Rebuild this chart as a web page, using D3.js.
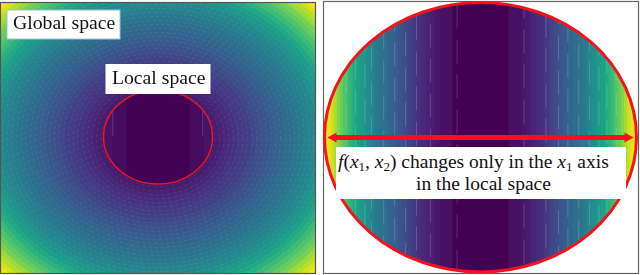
<!DOCTYPE html>
<html>
<head>
<meta charset="utf-8">
<script src="https://cdn.jsdelivr.net/npm/d3@7"></script>
<style>
  html, body { margin: 0; padding: 0; background: #fff; }
  svg { display: block; filter: blur(0.4px); }
  text { font-family: "Liberation Serif", serif; fill: #111; }
</style>
</head>
<body>
<svg id="chart" width="640" height="275"></svg>
<script>
// global space: contour radius (1 = panel half size) and its value, read along the diagonal
var contourRadius = [1.45, 1.41, 1.38, 1.35, 1.32, 1.29, 1.26, 1.23, 1.2, 1.17, 1.14, 1.11, 1.08, 1.05, 1.02,
  0.99, 0.96, 0.93, 0.9, 0.87, 0.84, 0.81, 0.78, 0.75, 0.72, 0.69, 0.66, 0.63, 0.6, 0.57, 0.54, 0.51, 0.48, 0.45, 0.42, 0.39, 0.36];
var contourValue = [1.0, 0.98, 0.94, 0.89, 0.85, 0.8, 0.76, 0.72, 0.68, 0.64, 0.6, 0.56, 0.53, 0.5, 0.47,
  0.45, 0.43, 0.41, 0.39, 0.37, 0.35, 0.33, 0.31, 0.29, 0.27, 0.25, 0.235, 0.22, 0.195, 0.18, 0.165, 0.145, 0.13, 0.115, 0.095, 0.08, 0.065];

// local space: value only depends on x1, edges are |x1| of each vertical band
var bandEdge = [1.0, 0.98, 0.96, 0.94, 0.92, 0.9, 0.88, 0.86, 0.84, 0.82, 0.8, 0.77, 0.74, 0.71, 0.68,
  0.65, 0.62, 0.59, 0.56, 0.53, 0.5, 0.47, 0.44, 0.41, 0.38, 0.35, 0.32, 0.29, 0.26, 0.18];
var bandValue = [0.98, 0.96, 0.92, 0.87, 0.82, 0.77, 0.73, 0.69, 0.65, 0.61, 0.57, 0.53, 0.49, 0.45, 0.41,
  0.38, 0.35, 0.32, 0.29, 0.26, 0.23, 0.2, 0.17, 0.14, 0.12, 0.1, 0.08, 0.06, 0.04, 0.0];
var streakX1 = [-0.86, -0.8, -0.74, -0.7, -0.62, -0.55, -0.48, -0.41, -0.32, -0.15, 0.28, 0.42, 0.5, 0.56, 0.63, 0.7, 0.76, 0.81, 0.87];
var streakShift = [3, 17, 9, 26, 12, 30, 5, 21, 14, 33, 8, 24, 2, 19, 28, 11, 6, 23, 15];

// small copy of the bands inside the red circle of the global view
var insetEdge = [1.0, 0.84, 0.58];
var insetValue = [0.05, 0.03, 0.0];
var insetStreak = [-0.83, 0.82];
var insetShift = [0, 0];

var labels = {
  global: 'Global space',
  local: 'Local space',
  line2: 'in the local space'
};

var svg = d3.select('#chart');
var color = d3.scaleSequential(d3.interpolateViridis).domain([0, 1]);
var defs = svg.append('defs');

var leftX = d3.scaleLinear().domain([-1, 1]).range([1, 315]);
var leftY = d3.scaleLinear().domain([-1, 1]).range([3, 273]);
var rightX = d3.scaleLinear().domain([-1, 1]).range([324.5, 636.5]);
var rightY = d3.scaleLinear().domain([-1, 1]).range([2.5, 272]);
var insetX = d3.scaleLinear().domain([-1, 1]).range([103.5, 212.5]);
var insetY = d3.scaleLinear().domain([-1, 1]).range([90, 184]);

defs.append('clipPath').attr('id', 'left-clip').append('rect')
  .attr('x', 1).attr('y', 3).attr('width', 314).attr('height', 270);
defs.append('clipPath').attr('id', 'right-clip').append('ellipse')
  .attr('cx', rightX(0)).attr('cy', rightY(0))
  .attr('rx', rightX(1) - rightX(0)).attr('ry', rightY(1) - rightY(0));
defs.append('clipPath').attr('id', 'inset-clip').append('ellipse')
  .attr('cx', insetX(0)).attr('cy', insetY(0))
  .attr('rx', insetX(1) - insetX(0)).attr('ry', insetY(1) - insetY(0));

function drawBands(g, xScale, yScale, edges, values, streaks, shifts, dash) {
  var rows = edges.map(function(e, i) { return { edge: e, value: values[i] }; });
  g.selectAll('rect.band').data(rows).join('rect')
    .attr('class', 'band')
    .attr('x', function(d) { return xScale(-d.edge); })
    .attr('width', function(d) { return xScale(d.edge) - xScale(-d.edge); })
    .attr('y', yScale(-1))
    .attr('height', yScale(1) - yScale(-1))
    .attr('fill', function(d) { return color(d.value); });
  g.selectAll('line.streak').data(streaks).join('line')
    .attr('class', 'streak')
    .attr('x1', function(d) { return xScale(d); })
    .attr('x2', function(d) { return xScale(d); })
    .attr('y1', yScale(-1))
    .attr('y2', yScale(1))
    .attr('stroke', '#fff')
    .attr('stroke-opacity', 0.18)
    .attr('stroke-width', 1)
    .attr('stroke-dasharray', dash)
    .attr('stroke-dashoffset', function(d, i) { return shifts[i]; });
}

function drawBox(x, y, w, h, stroke) {
  svg.append('rect')
    .attr('x', x).attr('y', y).attr('width', w).attr('height', h)
    .attr('fill', '#fff').attr('stroke', stroke).attr('stroke-width', stroke === 'none' ? 0 : 1);
}

// global space
var gLeft = svg.append('g').attr('clip-path', 'url(#left-clip)');
var contours = contourRadius.map(function(r, i) { return { r: r, value: contourValue[i] }; });
gLeft.selectAll('ellipse').data(contours).join('ellipse')
  .attr('cx', leftX(0))
  .attr('cy', leftY(0))
  .attr('rx', function(d) { return leftX(d.r) - leftX(0); })
  .attr('ry', function(d) { return leftY(d.r) - leftY(0); })
  .attr('fill', function(d) { return color(d.value); })
  .attr('stroke', '#fff')
  .attr('stroke-opacity', 0.09)
  .attr('stroke-width', 1)
  .attr('stroke-dasharray', '3 3');

var gInset = svg.append('g').attr('clip-path', 'url(#inset-clip)');
drawBands(gInset, insetX, insetY, insetEdge, insetValue, insetStreak, insetShift, '46 100');
svg.append('ellipse')
  .attr('cx', insetX(0)).attr('cy', insetY(0))
  .attr('rx', insetX(1) - insetX(0)).attr('ry', insetY(1) - insetY(0))
  .attr('fill', 'none').attr('stroke', '#ee1522').attr('stroke-width', 1.5);

svg.append('rect')
  .attr('x', 0.5).attr('y', 2.5).attr('width', 315).attr('height', 271)
  .attr('fill', 'none').attr('stroke', '#555').attr('stroke-width', 1.2);

drawBox(7, 10, 113, 29, '#9fc4cc');
svg.append('text').attr('x', 13).attr('y', 29).attr('font-size', 19.7).text(labels.global);
drawBox(105.5, 64, 105, 30, 'none');
svg.append('text').attr('x', 112).attr('y', 84).attr('font-size', 19.7).text(labels.local);

// local space
svg.append('rect')
  .attr('x', 323.5).attr('y', 1.5).attr('width', 315).attr('height', 272)
  .attr('fill', '#fff').attr('stroke', '#666').attr('stroke-width', 1.2);

var gRight = svg.append('g').attr('clip-path', 'url(#right-clip)');
drawBands(gRight, rightX, rightY, bandEdge, bandValue, streakX1, streakShift, '24 11');

svg.append('ellipse')
  .attr('cx', rightX(0)).attr('cy', rightY(0))
  .attr('rx', rightX(1) - rightX(0)).attr('ry', rightY(1) - rightY(0))
  .attr('fill', 'none').attr('stroke', '#f8101c').attr('stroke-width', 3);

// double arrow along x1
var arrowY = 137.5;
svg.append('line')
  .attr('x1', rightX(-1) + 8).attr('x2', rightX(1) - 8)
  .attr('y1', arrowY).attr('y2', arrowY)
  .attr('stroke', '#fb0d1b').attr('stroke-width', 5);
[[-1, 1], [1, -1]].forEach(function(a) {
  var tip = rightX(a[0]) + a[1] * 3;
  svg.append('path')
    .attr('d', d3.line()([[tip, arrowY], [tip + a[1] * 9, arrowY - 5], [tip + a[1] * 9, arrowY + 5]]) + 'Z')
    .attr('fill', '#fb0d1b');
});

drawBox(336, 147, 290, 52, 'none');

var line1 = svg.append('text').attr('x', 338).attr('y', 167.5).attr('font-size', 19.5);
line1.append('tspan').attr('font-style', 'italic').text('f');
line1.append('tspan').text('(');
line1.append('tspan').attr('font-style', 'italic').text('x');
line1.append('tspan').attr('font-size', 13).attr('dy', 3).text('1');
line1.append('tspan').attr('dy', -3).text(', ');
line1.append('tspan').attr('font-style', 'italic').text('x');
line1.append('tspan').attr('font-size', 13).attr('dy', 3).text('2');
line1.append('tspan').attr('dy', -3).text(') changes only in the ');
line1.append('tspan').attr('font-style', 'italic').text('x');
line1.append('tspan').attr('font-size', 13).attr('dy', 3).text('1');
line1.append('tspan').attr('dy', -3).text(' axis');

svg.append('text').attr('x', 483.5).attr('y', 190).attr('text-anchor', 'middle')
  .attr('font-size', 19.5).text(labels.line2);
</script>
</body>
</html>
